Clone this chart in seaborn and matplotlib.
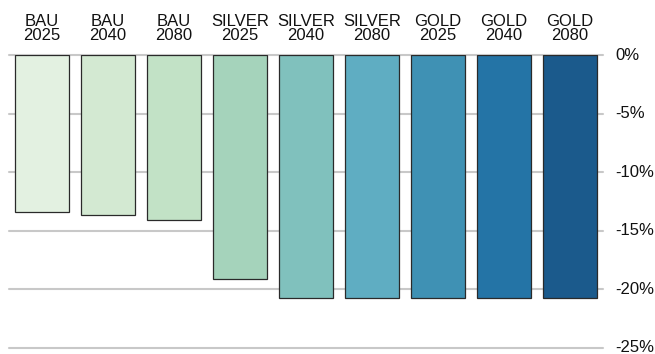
import matplotlib
matplotlib.use("Agg")
import matplotlib.pyplot as plt
import seaborn as sns
import pandas as pd

categories = ["BAU\n2025", "BAU\n2040", "BAU\n2080", "SILVER\n2025", "SILVER\n2040",
              "SILVER\n2080", "GOLD\n2025", "GOLD\n2040", "GOLD\n2080"]
values = [-13.45, -13.7, -14.1, -19.1, -20.8, -20.8, -20.8, -20.8, -20.8]
colors = ["#e3f1e1", "#d3e9d2", "#c2e2c6", "#a5d3bb", "#80c1bd", "#5fadc2",
          "#3f91b4", "#2474a6", "#1b5a8c"]
yticks = [0, -5, -10, -15, -20, -25]
ytick_labels = ["0%", "-5%", "-10%", "-15%", "-20%", "-25%"]

sns.set_style("white")
plt.rcParams["font.family"] = ["Liberation Sans", "DejaVu Sans"]

fig = plt.figure(figsize=(6.55, 3.54), dpi=100)
ax = fig.add_axes([9 / 655, 0, 594 / 655, 299 / 354])

df = pd.DataFrame({"cat": categories, "val": values})
sns.barplot(data=df, x="cat", y="val", hue="cat", palette=colors, legend=False,
            saturation=1, width=0.818, edgecolor="#2a2a2a", linewidth=0.9,
            ax=ax, zorder=3)

ax.set_xlim(-0.5, 8.5)
ax.set_ylim(-25.55, 0)
ax.set_yticks(yticks)
ax.set_yticklabels(ytick_labels)
ax.yaxis.tick_right()
ax.xaxis.tick_top()
ax.tick_params(axis="y", length=0, pad=9, labelsize=12, colors="#111111")
ax.tick_params(axis="x", length=0, pad=9, labelsize=12, colors="#111111")
for lab in ax.get_xticklabels():
    lab.set_linespacing(0.86)
for lab in ax.get_yticklabels():
    lab.set_verticalalignment("center")
ax.grid(axis="y", color="#c8c8c8", linewidth=1.5)
ax.set_axisbelow(True)
for g in ax.get_ygridlines():
    g.set_clip_on(False)
ax.set_xlabel("")
ax.set_ylabel("")
for s in ax.spines.values():
    s.set_visible(False)

fig.savefig("out.png", dpi=100)
